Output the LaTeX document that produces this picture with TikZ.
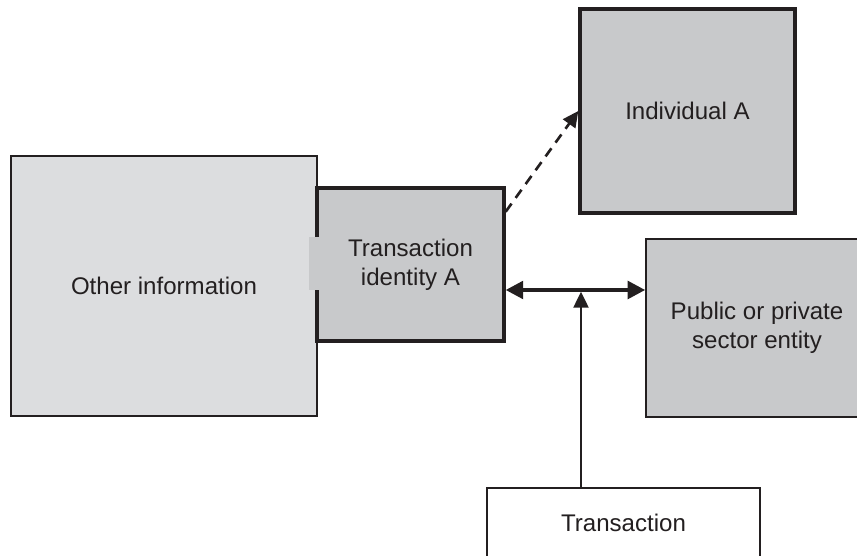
\documentclass[tikz,border=0pt]{standalone}
\usepackage{fontspec}
\setmainfont{Liberation Sans}
\usetikzlibrary{arrows.meta}

\definecolor{boxgray}{HTML}{C8C9CB}
\definecolor{palegray}{HTML}{DCDDDF}
\definecolor{ink}{HTML}{231F20}

\tikzset{
 box/.style={draw=ink, fill=boxgray, text=ink, align=center, inner sep=0pt,
  font=\fontsize{13.7}{16.5}\selectfont},
 thickbox/.style={box, line width=1.9pt},
 thinbox/.style={box, line width=0.9pt},
 link/.style={draw=ink, line width=1.2pt, -{Triangle[length=9pt,width=8.5pt]}}
}

\begin{document}
\begin{tikzpicture}

 \clip (0,0) rectangle (17.14,11.12);
 \useasboundingbox (0,0) rectangle (17.14,11.12);

 \node[thinbox, fill=palegray, minimum width=6.12cm, minimum height=5.2cm] (other) at (3.28,5.4) {Other information};
 \node[thickbox, minimum width=3.74cm, minimum height=3.06cm] (tid) at (8.21,5.83) {Transaction\\identity A};
 \fill[boxgray] (6.18,5.32) rectangle (6.42,6.38); % opening between the two boxes
 \node[thickbox, minimum width=4.3cm, minimum height=4.08cm] (ind) at (13.75,8.9) {Individual A};
 \node[thinbox, minimum width=4.44cm, minimum height=3.56cm] (entity) at (15.14,4.56) {Public or private\\sector entity};
 \node[thinbox, fill=white, minimum width=5.46cm, minimum height=1.4cm] (trans) at (12.47,0.66) {Transaction};

 % who is behind the transaction identity
 \draw[link, line width=1.5pt, dash pattern=on 5.7pt off 4pt] (tid.29) -- (ind.west);

 % exchange with the entity
 \draw[link, line width=2.2pt, {Triangle[length=10pt,width=10pt]}-{Triangle[length=10pt,width=10pt]}] (tid.east |- 0,5.32) -- (entity.west |- 0,5.32);
 \coordinate (hub) at (11.62,5.32);
 \draw[link, shorten >=1pt] (trans.north -| hub) -- (hub);

\end{tikzpicture}
\end{document}
